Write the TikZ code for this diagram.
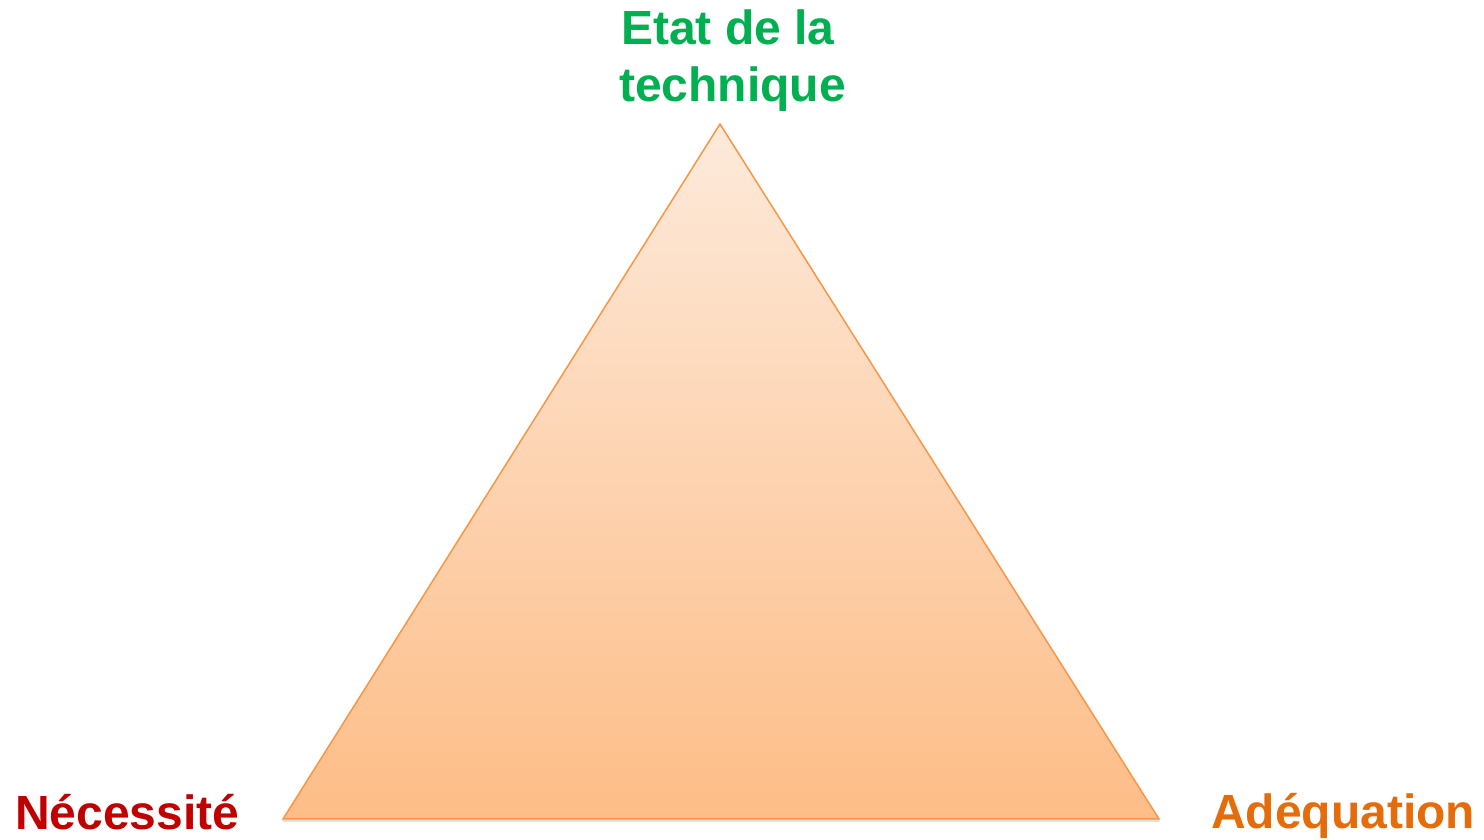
\documentclass[tikz,border=0pt]{standalone}
\usepackage{fontspec}
\setmainfont{Liberation Sans}
\usetikzlibrary{shadows}
\definecolor{tgreen}{HTML}{00B050}
\definecolor{tred}{HTML}{C00000}
\definecolor{torange}{HTML}{E46C0A}
\definecolor{tborder}{HTML}{F79646}
\definecolor{ttop}{HTML}{FDEADB}
\definecolor{tbot}{HTML}{FDBD87}
\tikzset{lbl/.style={font=\fontsize{48}{57}\selectfont\bfseries, inner sep=0pt, anchor=base west}}
\begin{document}
\begin{tikzpicture}[x=1pt,y=1pt]
\useasboundingbox (0,0) rectangle (1484,840);
\coordinate (A) at (720,716);
\coordinate (B) at (283,21);
\coordinate (C) at (1159,21);
\fill[black!25, opacity=0.5] (283,18) -- (1159,18) -- (1160,21) -- (282,21) -- cycle;
\shade[top color=ttop, bottom color=tbot] (A) -- (C) -- (B) -- cycle;
\draw[tborder, line width=1.5pt, line join=miter] (A) -- (C) -- (B) -- cycle;
\node[lbl, text=tgreen] (t1) at (621,795) {Etat de la};
\node[lbl, text=tgreen] (t2) at (619,738) {technique};
\node[lbl, text=tred] (n) at (15,10) {Nécessité};
\node[lbl, text=torange] (a) at (1211,11) {Adéquation};
\end{tikzpicture}
\end{document}
